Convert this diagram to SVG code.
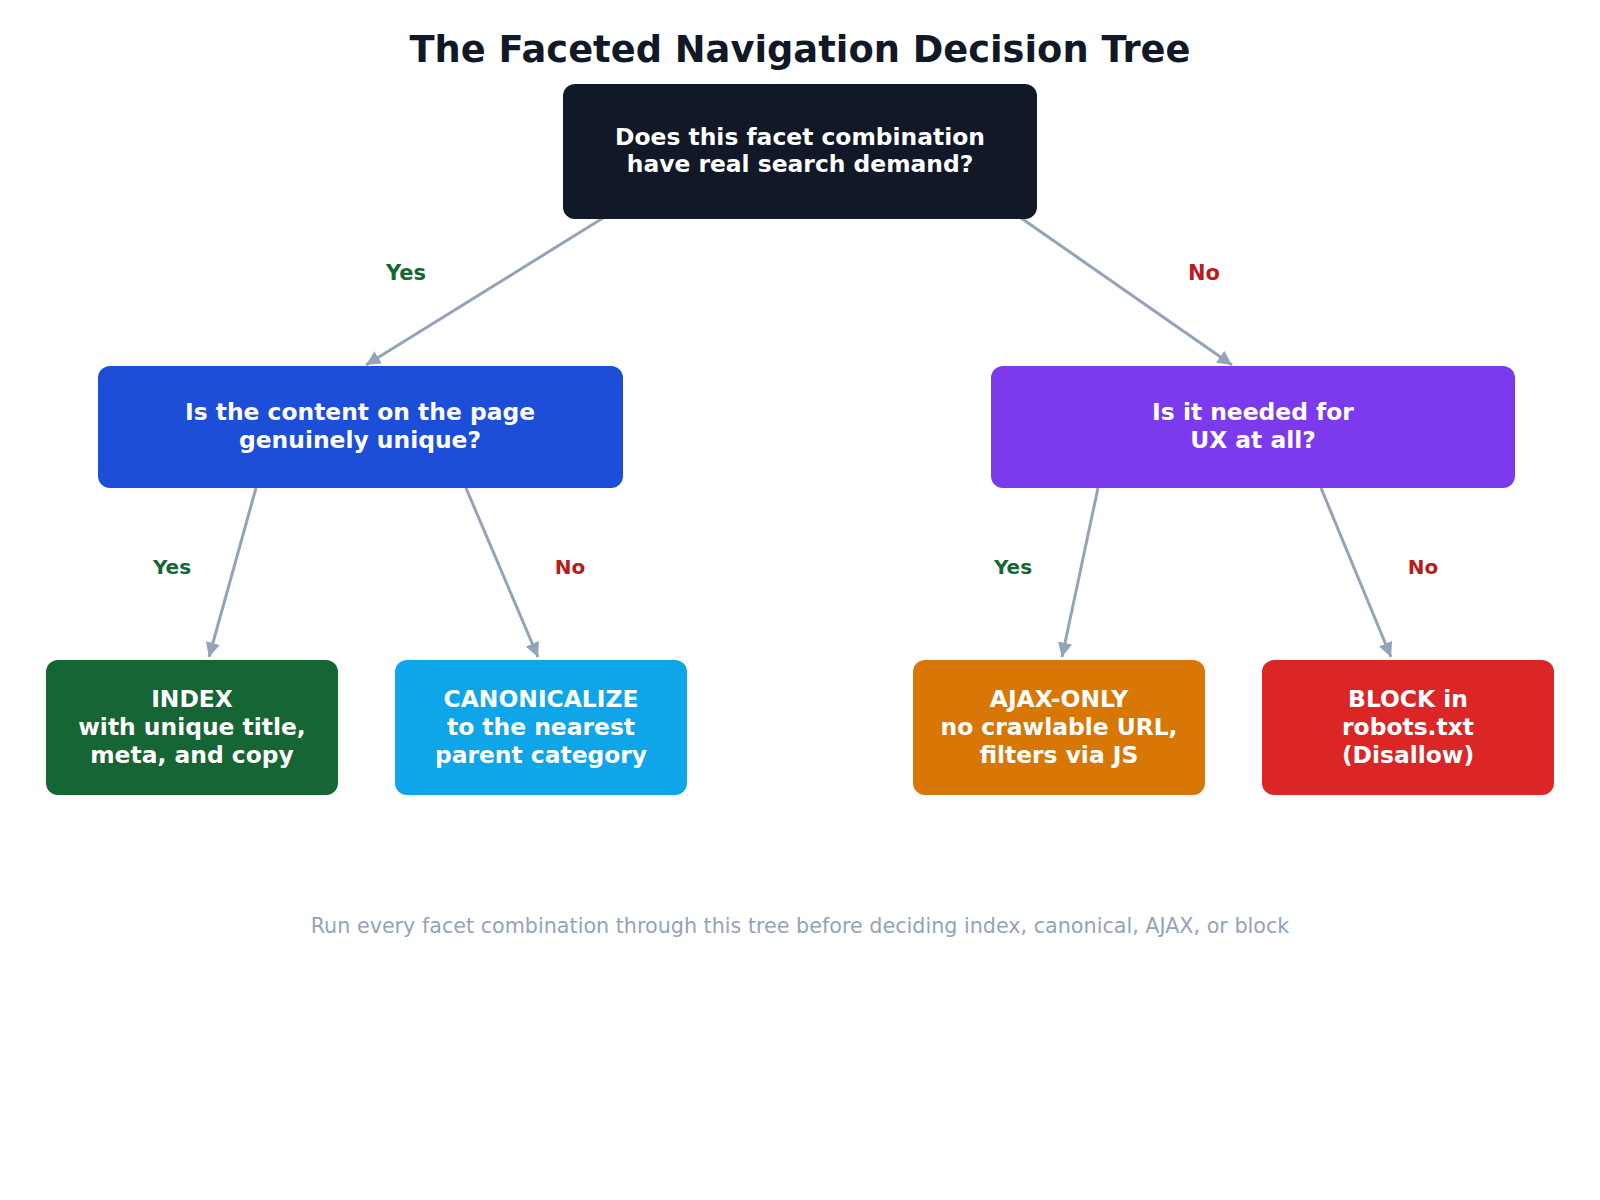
<svg xmlns="http://www.w3.org/2000/svg" width="1600" height="1200" viewBox="0 0 1600 1200">
  <defs>
    <marker id="arrow" viewBox="0 0 10 10" refX="10" refY="5" markerWidth="4.8" markerHeight="4.8" orient="auto" markerUnits="strokeWidth">
      <path d="M0,0 L10,5 L0,10 z" fill="#94a3b8"/>
    </marker>
    <style>
      text { font-family: "DejaVu Sans", Verdana, sans-serif; }
      .title { font-size: 36.8px; font-weight: bold; fill: #111827; text-anchor: middle; }
      .nodetext { font-size: 23.4px; font-weight: bold; fill: #ffffff; text-anchor: middle; }
      .edge { stroke: #94a3b8; stroke-width: 3; fill: none; marker-end: url(#arrow); }
      .lbl { font-weight: bold; text-anchor: middle; }
      .yes { fill: #166534; }
      .no { fill: #b91c1c; }
      .footer { font-size: 20.7px; fill: #94a3b8; text-anchor: middle; }
    </style>
  </defs>
  <rect width="1600" height="1200" fill="#ffffff"/>
  <text class="title" x="800" y="62">The Faceted Navigation Decision Tree</text>

  <g id="connectors">
    <line class="edge" x1="603" y1="218" x2="366" y2="365"/>
    <line class="edge" x1="1021" y1="218" x2="1232" y2="365"/>
    <line class="edge" x1="256" y1="488" x2="209" y2="657"/>
    <line class="edge" x1="466" y1="488" x2="538" y2="657"/>
    <line class="edge" x1="1098" y1="488" x2="1062" y2="657"/>
    <line class="edge" x1="1321" y1="488" x2="1391" y2="657"/>
    <text class="lbl yes" x="406" y="280" font-size="21">Yes</text>
    <text class="lbl no" x="1204" y="280" font-size="21">No</text>
    <text class="lbl yes" x="172" y="574" font-size="20">Yes</text>
    <text class="lbl no" x="570" y="574" font-size="20">No</text>
    <text class="lbl yes" x="1013" y="574" font-size="20">Yes</text>
    <text class="lbl no" x="1423" y="574" font-size="20">No</text>
  </g>

  <g id="q1">
    <rect x="563" y="84" width="474" height="135" rx="12" fill="#111827"/>
    <text class="nodetext" x="800" y="145">Does this facet combination</text>
    <text class="nodetext" x="800" y="172">have real search demand?</text>
  </g>
  <g id="q2">
    <rect x="98" y="366" width="525" height="122" rx="12" fill="#1d4ed8"/>
    <text class="nodetext" x="360" y="420">Is the content on the page</text>
    <text class="nodetext" x="360" y="448">genuinely unique?</text>
  </g>
  <g id="q3">
    <rect x="991" y="366" width="524" height="122" rx="12" fill="#7c3aed"/>
    <text class="nodetext" x="1253" y="420">Is it needed for</text>
    <text class="nodetext" x="1253" y="448">UX at all?</text>
  </g>
  <g id="index">
    <rect x="46" y="660" width="292" height="135" rx="12" fill="#166534"/>
    <text class="nodetext" x="192" y="707">INDEX</text>
    <text class="nodetext" x="192" y="735">with unique title,</text>
    <text class="nodetext" x="192" y="763">meta, and copy</text>
  </g>
  <g id="canonicalize">
    <rect x="395" y="660" width="292" height="135" rx="12" fill="#0ea5e9"/>
    <text class="nodetext" x="541" y="707">CANONICALIZE</text>
    <text class="nodetext" x="541" y="735">to the nearest</text>
    <text class="nodetext" x="541" y="763">parent category</text>
  </g>
  <g id="ajax">
    <rect x="913" y="660" width="292" height="135" rx="12" fill="#d97706"/>
    <text class="nodetext" x="1059" y="707">AJAX-ONLY</text>
    <text class="nodetext" x="1059" y="735">no crawlable URL,</text>
    <text class="nodetext" x="1059" y="763">filters via JS</text>
  </g>
  <g id="block">
    <rect x="1262" y="660" width="292" height="135" rx="12" fill="#dc2626"/>
    <text class="nodetext" x="1408" y="707">BLOCK in</text>
    <text class="nodetext" x="1408" y="735">robots.txt</text>
    <text class="nodetext" x="1408" y="763">(Disallow)</text>
  </g>

  <text class="footer" x="800" y="933">Run every facet combination through this tree before deciding index, canonical, AJAX, or block</text>
</svg>
